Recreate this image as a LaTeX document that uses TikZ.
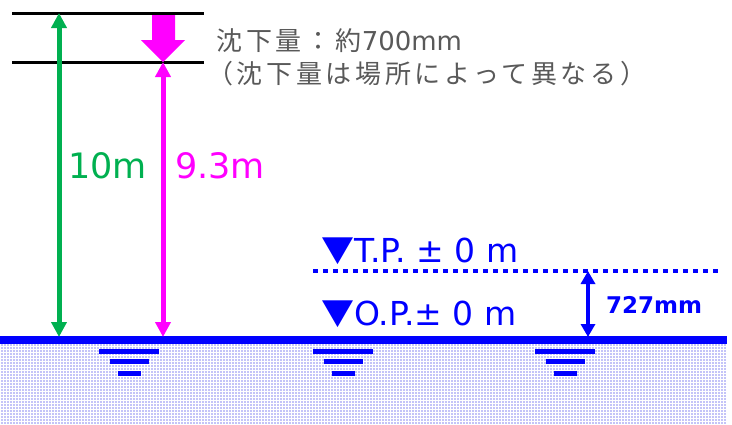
\documentclass[tikz,border=0pt]{standalone}
\usepackage{fontspec}
\setmainfont{DejaVu Sans}
\newfontfamily\jp{Noto Sans CJK JP}
\usetikzlibrary{arrows.meta,patterns}
\definecolor{gtext}{HTML}{595959}
\definecolor{mgreen}{HTML}{00B050}
\definecolor{mmag}{HTML}{FF00FF}
\definecolor{mblue}{HTML}{0000FF}
\definecolor{soil}{RGB}{196,196,248}
\tikzset{
  lvl/.style={line width=3pt,black},
  dimarrow/.style={line width=5pt,{Triangle[width=15pt,length=15pt]}-{Triangle[width=15pt,length=15pt]}},
  wbar/.style={line width=5pt,mblue},
  lbl/.style={inner sep=0pt,anchor=base west},
}
\begin{document}
\begin{tikzpicture}[x=1pt,y=-1pt]
\useasboundingbox (0,0) rectangle (732,424);
% ground fill
\fill[soil] (0,340) rectangle (727,424);
\fill[pattern=grid,pattern color=white] (0,343) rectangle (727,424);
% level lines
\coordinate (top1) at (59,13);
\coordinate (top2) at (163,62);
\draw[lvl] (12,13) -- (204,13);
\draw[lvl] (12,62) -- (204,62);
% ground line
\draw[line width=7.5pt,mblue] (0,340) coordinate (gl) -- (727,340) coordinate (gr);
\coordinate (g1) at (59,337);
\coordinate (g2) at (163,337);
\coordinate (g3) at (588,337);
\coordinate (tp) at (588,271);
% dotted TP line
\draw[mblue,line width=4.5pt,dash pattern=on 4.5pt off 5.5pt] (313,271) coordinate (tpl) -- (722,271) coordinate (tpr);
% arrows
\draw[dimarrow,mgreen] (g1) -- (top1);
\draw[dimarrow,mmag] (g2) -- (top2);
\draw[mblue,line width=4.5pt,{Triangle[width=14pt,length=13pt]}-{Triangle[width=14pt,length=13pt]}] (g3) -- (tp);
% block arrow
\fill[mmag] (152,15) -- (175,15) -- (175,40) -- (185,40) -- (top2) -- (141,40) -- (152,40) -- cycle;
% water table symbols
\foreach \c in {129,343,565}{
  \draw[wbar] (\c-30,351.5) -- (\c+30,351.5);
  \draw[wbar] (\c-19.5,361.5) -- (\c+19.5,361.5);
  \draw[wbar] (\c-11.5,373.5) -- (\c+11.5,373.5);
}
% texts
\node[lbl,gtext,font=\fontsize{26}{30}\selectfont] (t1) at (216,50) {{\jp\addfontfeature{LetterSpace=15}沈下量：約}700mm};
\node[lbl,gtext,font=\fontsize{26}{30}\selectfont\jp] (t2) at (207,83) {\addfontfeature{LetterSpace=14}（沈下量は場所によって異なる）};
\node[lbl,mgreen,font=\fontsize{35}{40}\selectfont] (l10) at (68,178) {10m};
\node[lbl,mmag,font=\fontsize{35}{40}\selectfont] (l93) at (175,178) {9.3m};
\node[lbl,mblue,font=\fontsize{33}{38}\selectfont] (ltp) at (321,262) {{\jp ▼}T.P. ± 0 m};
\node[lbl,mblue,font=\fontsize{33}{38}\selectfont] (lop) at (321,325) {{\jp ▼}O.P.± 0 m};
\node[lbl,mblue,font=\fontsize{23}{27}\selectfont\bfseries] (l727) at (606,313) {727mm};
\end{tikzpicture}
\end{document}
